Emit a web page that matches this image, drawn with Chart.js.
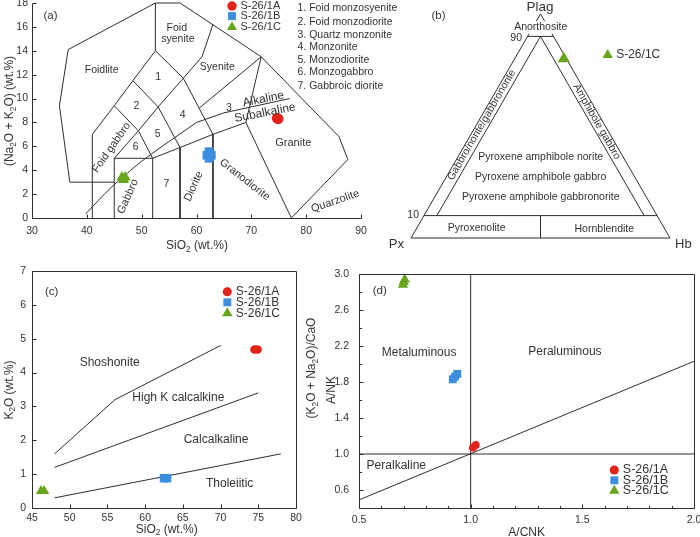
<!DOCTYPE html>
<html>
<head>
<meta charset="utf-8">
<script src="https://cdn.jsdelivr.net/npm/chart.js@4.4.1/dist/chart.umd.min.js"></script>
<style>
    html, body { margin: 0; padding: 0; background: #fff; overflow: hidden; width: 700px; height: 537px; }
    canvas { position: absolute; left: -10px; top: -10px; width: 720px; height: 557px; }
</style>
</head>
<body>
<canvas id="tasChart" width="720" height="557"></canvas>
<canvas id="ternChart" width="720" height="557"></canvas>
<canvas id="kChart" width="720" height="557"></canvas>
<canvas id="acnkChart" width="720" height="557"></canvas>
<script>
const samples = ["S-26/1A", "S-26/1B", "S-26/1C"];
const sampleColors = ["#e2231a", "#3c8fde", "#67a51c"];
const sampleShapes = ["circle", "rect", "triangle"];

// (a) TAS: SiO2 vs Na2O+K2O
const tasSiO2A = [74.7, 74.9];
const tasAlkA = [8.35, 8.3];
const tasSiO2B = [62.3, 61.9, 62.7, 62.3];
const tasAlkB = [5.55, 5.25, 5.25, 5.0];
const tasSiO2C = [46.4, 47.0, 46.7];
const tasAlkC = [3.4, 3.4, 3.2];
const tasXTicks = [30, 40, 50, 60, 70, 80, 90];
const tasYTicks = [0, 2, 4, 6, 8, 10, 12, 14, 16, 18];
const tasFieldList = ["1. Foid monzosyenite", "2. Foid monzodiorite", "3. Quartz monzonite", "4. Monzonite", "5. Monzodiorite", "6. Monzogabbro", "7. Gabbroic diorite"];
const tasLines = [
    [[36.9, 3], [35, 9.4], [36.6, 14.1], [52.5, 18], [57, 18], [71.8, 13.5], [86, 6.8], [87.6, 4.9], [77.3, 0]],
    [[36.9, 3], [45, 3]],
    [[41, 0], [41, 7], [45, 9.4], [48.4, 11.5], [52.5, 14], [52.5, 18]],
    [[45, 0], [45, 5], [52, 5]],
    [[52, 0], [52, 5], [49.4, 7.3], [45, 9.4]],
    [[45, 5], [49.4, 7.3], [53, 9.3], [57.6, 11.7], [61, 13.5], [63, 16.2]],
    [[48.4, 11.5], [53, 9.3], [57, 5.9], [57, 0]],
    [[52.5, 14], [57.6, 11.7], [63, 7], [63, 0]],
    [[52, 5], [57, 5.9], [63, 7], [69, 8], [71.8, 13.5]],
    [[69, 8], [77.3, 0]],
    [[71.8, 13.5], [60.5, 9.2]],
    [[39.8, 0.35], [43.2, 2], [45, 2.8], [48, 4], [50, 4.75], [53.7, 6], [55, 6.4], [60, 8], [65, 8.8], [77, 10]],
];

// (b) Plag - Px - Hb ternary (percent)
const ternPlag = [80];
const ternPx = [1];
const ternHb = [19];
const ternLines = [
    [[100, 0, 0], [0, 100, 0], [0, 0, 100], [100, 0, 0]],
    [[90, 10, 0], [90, 0, 10]],
    [[10, 90, 0], [10, 0, 90]],
    [[90, 5, 5], [10, 85, 5]],
    [[90, 5, 5], [10, 5, 85]],
    [[10, 45, 45], [0, 50, 50]],
];

// (c) SiO2 vs K2O
const kSiO2A = [74.5, 74.9];
const kK2OA = [4.68, 4.68];
const kSiO2B = [62.5, 62.9];
const kK2OB = [0.88, 0.88];
const kSiO2C = [46.2, 46.6];
const kK2OC = [0.5, 0.5];
const kXTicks = [45, 50, 55, 60, 65, 70, 75, 80];
const kYTicks = [0, 1, 2, 3, 4, 5, 6, 7];
const kLines = [
    [[48, 1.6], [56, 3.2], [70, 4.8]],
    [[48, 1.2], [75, 3.4]],
    [[48, 0.3], [78, 1.6]],
];

// (d) A/CNK vs A/NK
const acnkA = [1.01, 1.023];
const anknkA = [1.07, 1.1];
const acnkB = [0.92, 0.93, 0.94];
const ankB = [1.83, 1.86, 1.89];
const acnkC = [0.697, 0.7, 0.705];
const ankC = [2.88, 2.91, 2.94];
const acnkXTicks = [0.5, 0.6, 0.7, 0.8, 0.9, 1.0, 1.1, 1.2, 1.3, 1.4, 1.5, 1.6, 1.7, 1.8, 1.9, 2.0];
const acnkXLabels = ["0.5", "", "", "", "", "1.0", "", "", "", "", "1.5", "", "", "", "", "2.0"];
const acnkYTicks = [0.4, 0.6, 0.8, 1.0, 1.2, 1.4, 1.6, 1.8, 2.0, 2.2, 2.4, 2.6, 2.8, 3.0];
const acnkYLabels = ["", "0.6", "", "1.0", "", "1.4", "", "1.8", "", "2.2", "", "2.6", "", "3.0"];
const acnkLines = [
    [[1.0, 0.4], [1.0, 3.0]],
    [[0.5, 1.0], [2.0, 1.0]],
    [[0.5, 0.49], [2.0, 2.03]],
];

const FONT = "'Liberation Sans', Arial, sans-serif";
const INK = "#333333";
const LINE = "#2e2e2e";
const OFF = 10;
Chart.defaults.font.family = FONT;
Chart.defaults.color = INK;

/*
 * Text with _2 style subscripts */
const drawRich = (ctx, text, x, y, size, rot, align, bg) => {
    const parts = text.split(/_(\d)/);
    const big = size + "px " + FONT;
    const small = (size * 0.68).toFixed(1) + "px " + FONT;
    ctx.save();
    ctx.translate(x, y);
    ctx.rotate(((rot || 0) * Math.PI) / 180);
    let w = 0;
    parts.forEach((p, i) => {
        ctx.font = i % 2 ? small : big;
        w += ctx.measureText(p).width;
    });
    let cx = align === "left" ? 0 : align === "right" ? -w : -w / 2;
    if (bg) {
        ctx.fillStyle = bg;
        ctx.fillRect(cx - 1, -size * 0.6, w + 2, size * 1.2);
    }
    ctx.fillStyle = INK;
    ctx.textAlign = "left";
    ctx.textBaseline = "middle";
    parts.forEach((p, i) => {
        ctx.font = i % 2 ? small : big;
        ctx.fillText(p, cx, i % 2 ? size * 0.3 : 0);
        cx += ctx.measureText(p).width;
    });
    ctx.restore();
};

const marker = (ctx, shape, x, y, r, color) => {
    ctx.fillStyle = color;
    ctx.beginPath();
    if (shape === "circle") {
        ctx.arc(x, y, r, 0, Math.PI * 2);
    } else if (shape === "rect") {
        const s = r * Math.SQRT1_2;
        ctx.rect(x - s, y - s, 2 * s, 2 * s);
    } else {
        ctx.moveTo(x, y - r);
        ctx.lineTo(x + r * 0.866, y + r / 2);
        ctx.lineTo(x - r * 0.866, y + r / 2);
        ctx.closePath();
    }
    ctx.fill();
};

/*
 * Frame, inward ticks, labels and legend */
const decor = (spec) => ({
    id: "decor",
    afterDatasetsDraw(chart) {
        const ctx = chart.ctx;
        const a = chart.chartArea;
        const sx = chart.scales.x;
        const sy = chart.scales.y;
        const L = Math.round(a.left) + 0.5;
        const R = Math.round(a.right) + 0.5;
        const T = Math.round(a.top) + 0.5;
        const B = Math.round(a.bottom) + 0.5;
        ctx.save();
        ctx.strokeStyle = LINE;
        ctx.lineWidth = 1;
        ctx.beginPath();
        if (spec.frame) {
            ctx.moveTo(L, T);
            ctx.lineTo(L, B);
            ctx.lineTo(R, B);
            if (spec.frame === "box") {
                ctx.lineTo(R, T);
                ctx.closePath();
            }
        }
        if (spec.ticks) {
            sx.ticks.forEach((t) => {
                const p = Math.round(sx.getPixelForValue(t.value)) + 0.5;
                ctx.moveTo(p, B);
                ctx.lineTo(p, B - (t.label ? 4 : 2.5));
            });
            sy.ticks.forEach((t) => {
                const p = Math.round(sy.getPixelForValue(t.value)) + 0.5;
                ctx.moveTo(L, p);
                ctx.lineTo(L + (t.label ? 4 : 2.5), p);
            });
        }
        ctx.stroke();

        (spec.notes || []).forEach((n) => {
            drawRich(ctx, n.t, sx.getPixelForValue(n.x), sy.getPixelForValue(n.y), n.size || 10.5, n.r, n.align);
        });

        ctx.translate(OFF, OFF);
        (spec.page || []).forEach((n) => {
            drawRich(ctx, n.t, n.x, n.y, n.size || 10.5, n.r, n.align, n.bg);
        });
        (spec.legend || []).forEach((g) => {
            marker(ctx, sampleShapes[g.i], g.x, g.y, g.r, sampleColors[g.i]);
            drawRich(ctx, samples[g.i], g.x + 8.5, g.y, g.size || 11.5, 0, "left");
        });
        ctx.restore();
    },
});

const makeAxis = (min, max, ticks, labels, size, pad, show) => ({
    type: "linear",
    min: min,
    max: max,
    display: show,
    afterBuildTicks: (s) => {
        s.ticks = ticks.map((v) => ({ value: v }));
    },
    afterFit: (s) => {
        if (s.isHorizontal()) {
            s.height = size;
        } else {
            s.width = size;
        }
    },
    grid: { display: false, drawTicks: false },
    border: { display: false },
    ticks: {
        autoSkip: false,
        maxRotation: 0,
        padding: pad,
        color: INK,
        font: { size: 10.5 },
        callback: (v, i) => labels[i],
    },
});

const lineSet = (pts) => ({
    data: pts.map((p) => ({ x: p[0], y: p[1] })),
    showLine: true,
    borderColor: LINE,
    borderWidth: 1,
    pointRadius: 0,
    clip: false,
});

const sampleSet = (i, xs, ys, r) => ({
    label: samples[i],
    data: xs.map((x, k) => ({ x: x, y: ys[k] })),
    showLine: false,
    pointStyle: sampleShapes[i],
    pointRadius: r,
    pointBackgroundColor: sampleColors[i],
    pointBorderWidth: 0,
    clip: false,
});

const makeChart = (id, area, scales, yW, xH, datasets, spec) => {
    new Chart(document.getElementById(id), {
        type: "scatter",
        data: { datasets: datasets },
        options: {
            responsive: false,
            animation: false,
            events: [],
            layout: {
                padding: {
                    left: area.l + OFF - yW,
                    top: area.t + OFF,
                    right: 720 - area.r - OFF,
                    bottom: 557 - area.b - OFF - xH,
                },
            },
            scales: scales,
            plugins: { legend: { display: false }, tooltip: { enabled: false } },
        },
        plugins: [decor(spec)],
    });
};

/*
 * (a) TAS diagram */
makeChart(
    "tasChart",
    { l: 32, r: 361, t: 3, b: 218 },
    {
        x: makeAxis(30, 90, tasXTicks, tasXTicks.map(String), 20, 7, true),
        y: makeAxis(0, 18, tasYTicks, tasYTicks.map(String), 32, 4, true),
    },
    32,
    20,
    [
        sampleSet(0, tasSiO2A, tasAlkA, 5.3),
        sampleSet(1, tasSiO2B, tasAlkB, 6.2),
        sampleSet(2, tasSiO2C, tasAlkC, 6.3),
    ].concat(tasLines.map(lineSet)),
    {
        frame: "lb",
        ticks: true,
        notes: [
            { t: "Foidlite", x: 42.7, y: 12.4 },
            { t: "Foid", x: 56.4, y: 15.9 },
            { t: "syenite", x: 56.6, y: 15.0 },
            { t: "Syenite", x: 63.8, y: 12.6 },
            { t: "1", x: 53.0, y: 11.8 },
            { t: "2", x: 49.05, y: 9.35 },
            { t: "3", x: 65.9, y: 9.2 },
            { t: "4", x: 57.5, y: 8.65 },
            { t: "5", x: 52.9, y: 7.03 },
            { t: "6", x: 48.9, y: 5.94 },
            { t: "7", x: 54.5, y: 2.8 },
            { t: "Alkaline", x: 72.2, y: 9.95, r: -11, size: 12 },
            { t: "Subalkaline", x: 72.5, y: 8.8, r: -11, size: 12 },
            { t: "Granite", x: 77.65, y: 6.3, size: 11 },
            { t: "Granodiorite", x: 68.8, y: 3.2, r: 38, size: 11 },
            { t: "Quarzolite", x: 85.3, y: 1.4, r: -19, size: 11 },
            { t: "Diorite", x: 59.5, y: 2.65, r: -66, size: 11 },
            { t: "Gabbro", x: 47.5, y: 1.8, r: -66, size: 11 },
            { t: "Foid gabbro", x: 44.5, y: 5.9, r: -55, size: 11 },
        ],
        page: [
            { t: "(a)", x: 50.5, y: 16, size: 11.5 },
            { t: "(Na_2O + K_2O) (wt.%)", x: 10, y: 111, r: -90, size: 12 },
            { t: "SiO_2 (wt.%)", x: 197, y: 246, size: 12 },
        ].concat(tasFieldList.map((t, i) => ({ t: t, x: 297.5, y: [8, 22.5, 35, 47.5, 60, 72.5, 86][i], align: "left" }))),
        legend: [
            { i: 0, x: 232, y: 6, r: 4.7, size: 11 },
            { i: 1, x: 232, y: 16, r: 5.6, size: 11 },
            { i: 2, x: 232, y: 27, r: 5.8, size: 11 },
        ],
    }
);

/*
 * (b) Plag-Px-Hb ternary */
const tern = (p) => ({ x: (p[2] + p[0] / 2) / 100, y: p[0] / 100 });
makeChart(
    "ternChart",
    { l: 411, r: 670, t: 14, b: 238 },
    {
        x: makeAxis(0, 1, [], [], 0, 0, false),
        y: makeAxis(0, 1, [], [], 0, 0, false),
    },
    0,
    0,
    [
        {
            label: samples[2],
            data: ternPlag.map((p, k) => tern([p, ternPx[k], ternHb[k]])),
            showLine: false,
            pointStyle: "triangle",
            pointRadius: 7,
            pointBackgroundColor: sampleColors[2],
            pointBorderWidth: 0,
            clip: false,
        },
    ].concat(ternLines.map((seg) => lineSet(seg.map((p) => { const q = tern(p); return [q.x, q.y]; })))),
    {
        page: [
            { t: "Plag", x: 540, y: 7, size: 13.5 },
            { t: "Anorthosite", x: 540.7, y: 27.5, size: 10.5, bg: "#ffffff" },
            { t: "90", x: 522, y: 38, align: "right" },
            { t: "10", x: 419, y: 215.5, align: "right" },
            { t: "(b)", x: 438.5, y: 15.7, size: 11.5 },
            { t: "Gabbro/norite/gabbronorite", x: 481.7, y: 125, r: -60 },
            { t: "Amphibole gabbro", x: 596.7, y: 121.7, r: 60 },
            { t: "Pyroxene amphibole norite", x: 540.7, y: 157.3 },
            { t: "Pyroxene amphibole gabbro", x: 540.7, y: 177.3 },
            { t: "Pyroxene amphibole gabbronorite", x: 540.7, y: 196.7 },
            { t: "Pyroxenolite", x: 476.7, y: 228.5 },
            { t: "Hornblendite", x: 604.3, y: 228.8 },
            { t: "Px", x: 404, y: 244, size: 13, align: "right" },
            { t: "Hb", x: 675, y: 244, size: 13, align: "left" },
        ],
        legend: [{ i: 2, x: 607.7, y: 55, r: 6, size: 12 }],
    }
);

/*
 * (c) SiO2 vs K2O */
makeChart(
    "kChart",
    { l: 32, r: 296, t: 271, b: 508 },
    {
        x: makeAxis(45, 80, kXTicks, kXTicks.map(String), 20, 4, true),
        y: makeAxis(0, 7, kYTicks, kYTicks.map(String), 32, 6, true),
    },
    32,
    20,
    [
        sampleSet(0, kSiO2A, kK2OA, 4.3),
        sampleSet(1, kSiO2B, kK2OB, 6),
        sampleSet(2, kSiO2C, kK2OC, 6),
    ].concat(kLines.map(lineSet)),
    {
        frame: "box",
        ticks: true,
        notes: [
            { t: "Shoshonite", x: 55.3, y: 4.3, size: 12 },
            { t: "High K calcalkine", x: 64.4, y: 3.25, size: 12 },
            { t: "Calcalkaline", x: 69.4, y: 2.03, size: 12 },
            { t: "Tholeiitic", x: 71.2, y: 0.72, size: 12 },
        ],
        page: [
            { t: "(c)", x: 51.7, y: 292.3, size: 11.5 },
            { t: "K_2O (wt.%)", x: 9.5, y: 390, r: -90, size: 12 },
            { t: "SiO_2 (wt.%)", x: 166.7, y: 529.3, size: 12 },
        ],
        legend: [
            { i: 0, x: 227.3, y: 291.7, r: 4.5, size: 12 },
            { i: 1, x: 227.3, y: 302.3, r: 5.6, size: 12 },
            { i: 2, x: 227.3, y: 313.3, r: 6, size: 12 },
        ],
    }
);

/*
 * (d) A/CNK vs A/NK */
makeChart(
    "acnkChart",
    { l: 359, r: 694, t: 274, b: 508 },
    {
        x: makeAxis(0.5, 2.0, acnkXTicks, acnkXLabels, 20, 6, true),
        y: makeAxis(0.4, 3.0, acnkYTicks, acnkYLabels, 40, 10, true),
    },
    40,
    20,
    [
        sampleSet(0, acnkA, anknkA, 3.9),
        sampleSet(1, acnkB, ankB, 5.6),
        sampleSet(2, acnkC, ankC, 6),
    ].concat(acnkLines.map(lineSet)),
    {
        frame: "box",
        ticks: true,
        notes: [
            { t: "(d)", x: 0.593, y: 2.81, size: 11.5 },
            { t: "Metaluminous", x: 0.769, y: 2.13, size: 12 },
            { t: "Peraluminous", x: 1.422, y: 2.133, size: 12 },
            { t: "Peralkaline", x: 0.667, y: 0.87, size: 12 },
        ],
        page: [
            { t: "A/CNK", x: 526.7, y: 533, size: 12 },
            { t: "(K_2O + Na_2O)/CaO", x: 311.7, y: 368, r: -90, size: 12 },
            { t: "A/NK", x: 331.7, y: 390, r: -90, size: 12 },
        ],
        legend: [
            { i: 0, x: 614.3, y: 470, r: 4.5, size: 12.5 },
            { i: 1, x: 614.3, y: 480.3, r: 5.6, size: 12.5 },
            { i: 2, x: 614.3, y: 490.7, r: 6, size: 12.5 },
        ],
    }
);
</script>
</body>
</html>
